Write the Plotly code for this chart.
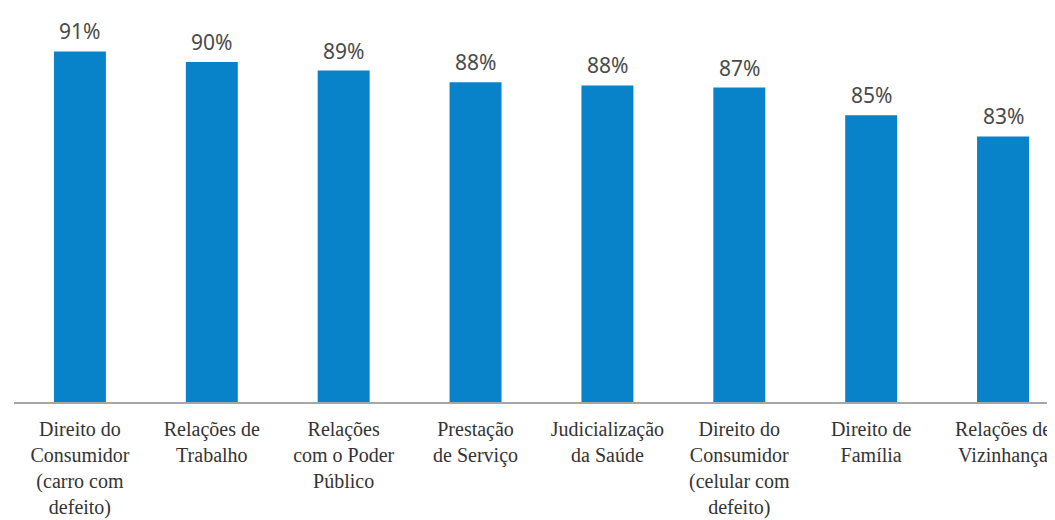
import plotly.graph_objects as go

categories = [
    "Direito do<br>Consumidor<br>(carro com<br>defeito)",
    "Relações de<br>Trabalho",
    "Relações<br>com o Poder<br>Público",
    "Prestação<br>de Serviço",
    "Judicialização<br>da Saúde",
    "Direito do<br>Consumidor<br>(celular com<br>defeito)",
    "Direito de<br>Família",
    "Relações de<br>Vizinhança",
]
values = [91.0, 90.0, 89.2, 88.1, 87.8, 87.6, 85.0, 83.0]
value_labels = ["91%", "90%", "89%", "88%", "88%", "87%", "85%", "83%"]

x_idx = list(range(len(categories)))

fig = go.Figure()
fig.add_trace(go.Bar(
    x=x_idx,
    y=values,
    base=0,
    width=0.394,
    marker=dict(color="#0882C8", line=dict(width=0)),
    hoverinfo="skip",
))

for i, (v, t) in enumerate(zip(values, value_labels)):
    fig.add_annotation(
        x=i, y=v, text=t, showarrow=False,
        yanchor="bottom", yshift=4,
        font=dict(family="Noto Sans", size=21, color="#4A4A4A"),
    )

fig.update_layout(
    width=1055, height=520,
    margin=dict(l=6, r=8, t=0, b=126),
    paper_bgcolor="white",
    plot_bgcolor="white",
    showlegend=False,
    xaxis=dict(
        range=[-0.5, 7.394],
        tickmode="array",
        tickvals=x_idx,
        ticktext=categories,
        showgrid=False,
        zeroline=False,
        showline=True,
        linecolor="#A6A6A6",
        linewidth=2,
        ticks="",
        ticklabelstandoff=8,
        tickfont=dict(family="Liberation Serif", size=20, color="#333333"),
    ),
    yaxis=dict(
        range=[58, 58 + 394 / 10.625],
        visible=False,
        showgrid=False,
        zeroline=False,
    ),
)

fig.write_html("out.html")
